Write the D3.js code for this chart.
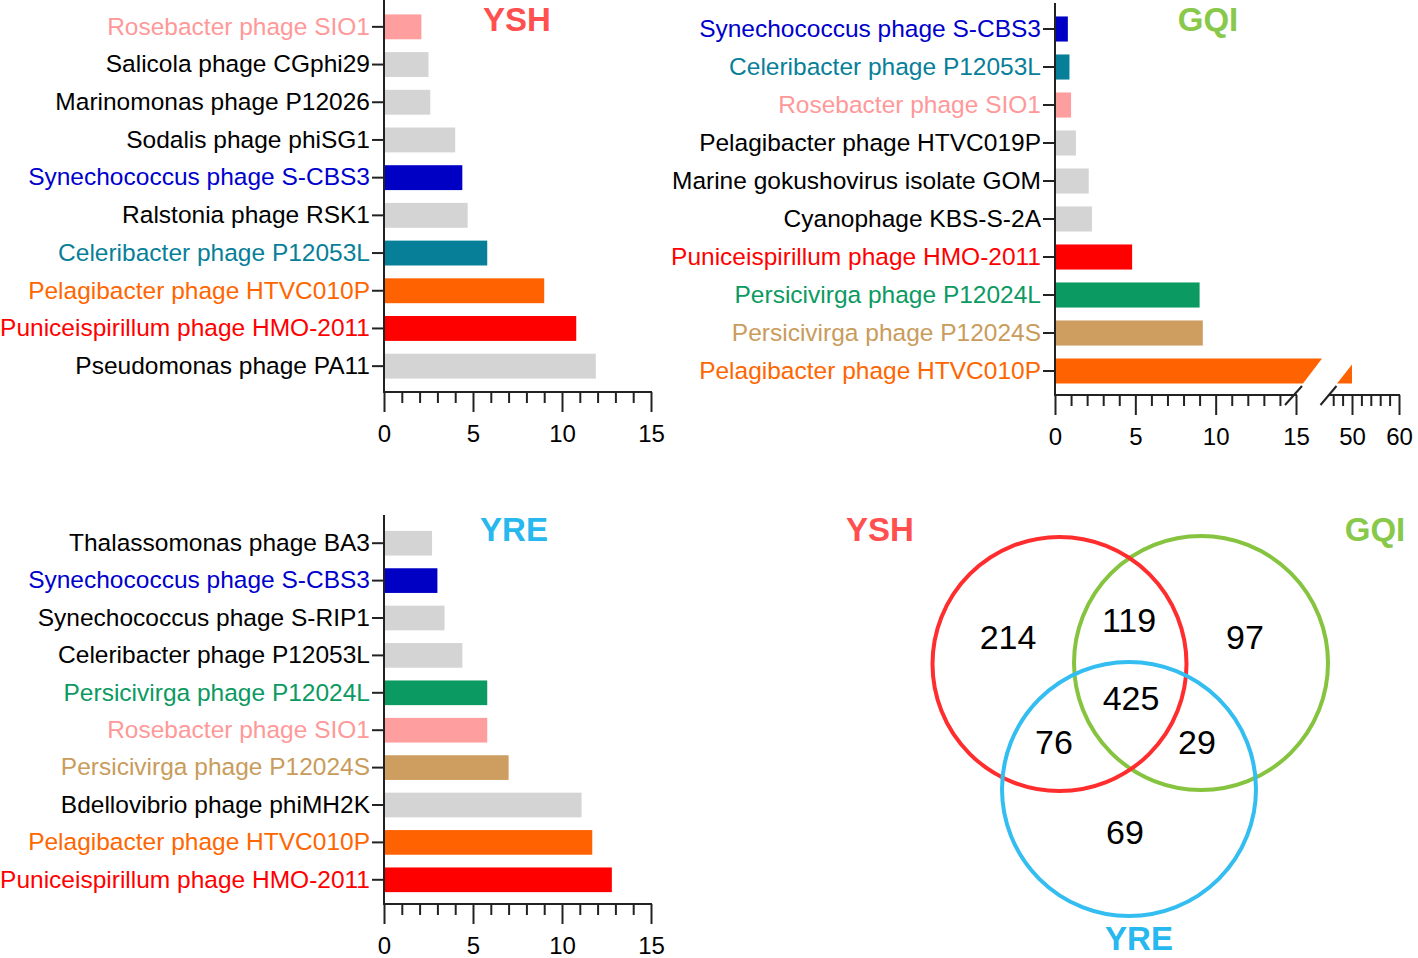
<!DOCTYPE html>
<html><head><meta charset="utf-8">
<script src="https://cdn.jsdelivr.net/npm/d3@7"></script>
<style>body{margin:0;background:#fff} text{font-family:"Liberation Sans",Arial,sans-serif}</style>
</head><body><svg id="c" width="1418" height="958"></svg>
<script>
// ---------- data ----------
const yshCategories = ["Rosebacter phage SIO1","Salicola phage CGphi29","Marinomonas phage P12026","Sodalis phage phiSG1","Synechococcus phage S-CBS3","Ralstonia phage RSK1","Celeribacter phage P12053L","Pelagibacter phage HTVC010P","Puniceispirillum phage HMO-2011","Pseudomonas phage PA11"];
const yshValues = [2.1,2.5,2.6,4.0,4.4,4.7,5.8,9.0,10.8,11.9];
const yshGroups = ["rose","other","other","other","syn","other","cel","pel","pun","other"];

const gqiCategories = ["Synechococcus phage S-CBS3","Celeribacter phage P12053L","Rosebacter phage SIO1","Pelagibacter phage HTVC019P","Marine gokushovirus isolate GOM","Cyanophage KBS-S-2A","Puniceispirillum phage HMO-2011","Persicivirga phage P12024L","Persicivirga phage P12024S","Pelagibacter phage HTVC010P"];
const gqiValues = [0.8,0.9,1.0,1.3,2.1,2.3,4.8,9.0,9.2,50];
const gqiGroups = ["syn","cel","rose","other","other","other","pun","perL","perS","pel"];

const yreCategories = ["Thalassomonas phage BA3","Synechococcus phage S-CBS3","Synechococcus phage S-RIP1","Celeribacter phage P12053L","Persicivirga phage P12024L","Rosebacter phage SIO1","Persicivirga phage P12024S","Bdellovibrio phage phiMH2K","Pelagibacter phage HTVC010P","Puniceispirillum phage HMO-2011"];
const yreValues = [2.7,3.0,3.4,4.4,5.8,5.8,7.0,11.1,11.7,12.8];
const yreGroups = ["other","syn","other","other","perL","rose","perS","other","pel","pun"];

const xMajorTicks = [0,5,10,15];
const xMinorTicks = d3.range(0,16,1);
const breakMajorTicks = [50,60];
const breakMinorTicks = [46,48,52,54,56,58];

const vennSets = ["YSH","GQI","YRE"];
const vennRegions = ["YSH only","YSH&GQI","GQI only","YSH&GQI&YRE","YSH&YRE","GQI&YRE","YRE only"];
const vennCounts = [214,119,97,425,76,29,69];

// ---------- styles ----------
const barColor = {rose:"#ff9e9e", syn:"#0000c4", cel:"#077f98", pel:"#ff6200", pun:"#ff0000", perL:"#0b9a62", perS:"#cd9e5f", other:"#d4d4d4"};
const labelColor = {rose:"#ff9999", syn:"#0000cc", cel:"#087f99", pel:"#ff6600", pun:"#ff0000", perL:"#0b9a62", perS:"#c99c5c", other:"#000"};
const titleColor = {YSH:"#ff4f4f", GQI:"#88c84a", YRE:"#26b8ee"};
const circleColor = {YSH:"#ff2d2d", GQI:"#86c440", YRE:"#33bdf0"};
const LABEL_FS = 24.5;
const TITLE_FS = 33;

const svg = d3.select("#c");
const AX = "#222";

function drawXAxis(g, x, axisY, major, minor){
  g.append("g").attr("transform",`translate(0,${axisY})`)
    .call(d3.axisBottom(x).tickValues(minor.filter(v=>!major.includes(v))).tickSize(11).tickFormat("").tickSizeOuter(0))
    .call(s=>{s.select(".domain").remove(); s.selectAll("line").attr("stroke",AX).attr("stroke-width",2);});
  g.append("g").attr("transform",`translate(0,${axisY})`)
    .call(d3.axisBottom(x).tickValues(major).tickSize(20).tickPadding(13).tickSizeOuter(0))
    .call(s=>{s.select(".domain").remove(); s.selectAll("line").attr("stroke",AX).attr("stroke-width",2);
      s.selectAll("text").attr("font-size",24).attr("fill","#000").attr("font-family","Liberation Sans, Arial, sans-serif");});
}

function panel(o){
  const g = svg.append("g");
  const y = d3.scaleBand().domain(o.cats).range(o.bandRange).paddingInner(0.34).paddingOuter(0.17);
  const x = o.x;
  const bh = y.bandwidth();
  o.cats.forEach((c,i)=>{
    const v = o.vals[i], col = barColor[o.groups[i]];
    const top = y(c), bot = y(c)+bh;
    if (o.x2 && v > x.domain()[1]) {
      const xe = x(x.domain()[1]);
      g.append("path").attr("fill",col)
        .attr("d",`M${x(0)},${top}L${xe+26},${top}L${xe+7},${bot}L${x(0)},${bot}Z`);
      const xv = o.x2(v);
      g.append("path").attr("fill",col)
        .attr("d",`M${xv},${bot}L${xv-15},${bot}L${xv},${bot-19}Z`);
    } else {
      g.append("rect").attr("x",x(0)).attr("y",top).attr("width",x(v)-x(0)).attr("height",bh).attr("fill",col);
    }
  });
  const ya = g.append("g").attr("transform",`translate(${x(0)},0)`)
    .call(d3.axisLeft(y).tickSize(12).tickPadding(2).tickSizeOuter(0));
  ya.select(".domain").remove();
  ya.selectAll("line").attr("stroke",AX).attr("stroke-width",2);
  ya.selectAll("text").attr("font-size",LABEL_FS).attr("font-family","Liberation Sans, Arial, sans-serif")
    .attr("fill",(d,i)=>labelColor[o.groups[i]]);
  g.append("line").attr("x1",x(0)).attr("x2",x(0)).attr("y1",o.yTop).attr("y2",o.axisY+1).attr("stroke",AX).attr("stroke-width",2);
  const xEnd = x(x.domain()[1])+1;
  g.append("line").attr("x1",x(0)-1).attr("x2",xEnd).attr("y1",o.axisY).attr("y2",o.axisY).attr("stroke",AX).attr("stroke-width",2);
  drawXAxis(g, x, o.axisY, xMajorTicks, xMinorTicks);
  if (o.x2){
    const s = o.x2.domain()[0], e = o.x2.domain()[1];
    g.append("line").attr("x1",o.x2(s)).attr("x2",o.x2(e)+1).attr("y1",o.axisY).attr("y2",o.axisY).attr("stroke",AX).attr("stroke-width",2);
    drawXAxis(g, o.x2, o.axisY, breakMajorTicks, breakMinorTicks);
    const xe = x(x.domain()[1]);
    g.append("line").attr("x1",xe-11).attr("y1",o.axisY+10).attr("x2",xe+6).attr("y2",o.axisY-9).attr("stroke",AX).attr("stroke-width",2);
    const xs = o.x2(s);
    g.append("line").attr("x1",xs-8).attr("y1",o.axisY+10).attr("x2",xs+8).attr("y2",o.axisY-9).attr("stroke",AX).attr("stroke-width",2);
  }
  g.append("text").attr("x",o.titleX).attr("y",o.titleY).attr("text-anchor","middle")
    .attr("font-size",TITLE_FS).attr("font-weight","bold").attr("fill",titleColor[o.title]).text(o.title);
}

panel({cats:yshCategories, vals:yshValues, groups:yshGroups,
  x:d3.scaleLinear().domain([0,15]).range([384,651]),
  bandRange:[8,385], yTop:0, axisY:392, title:"YSH", titleX:517, titleY:31});

panel({cats:gqiCategories, vals:gqiValues, groups:gqiGroups,
  x:d3.scaleLinear().domain([0,15]).range([1055,1296]),
  x2:d3.scaleLinear().domain([45,60]).range([1328.5,1399]),
  bandRange:[10,390], yTop:3, axisY:395, title:"GQI", titleX:1208, titleY:31});

panel({cats:yreCategories, vals:yreValues, groups:yreGroups,
  x:d3.scaleLinear().domain([0,15]).range([384,651]),
  bandRange:[524.5,898.5], yTop:515, axisY:904, title:"YRE", titleX:514, titleY:541});

// ---------- Venn ----------
const vennLayout = {YSH:{cx:1059.5,cy:664}, GQI:{cx:1201,cy:663}, YRE:{cx:1129,cy:789}};
const vennR = 127;
const vennTitlePos = {YSH:[880,541], GQI:[1375,541], YRE:[1139,950]};
const regionPos = {"YSH only":[1008,637],"YSH&GQI":[1129,620],"GQI only":[1245,637],"YSH&GQI&YRE":[1131,698],"YSH&YRE":[1054,742],"GQI&YRE":[1197,742],"YRE only":[1125,832]};
const vg = svg.append("g");
vg.selectAll("circle").data(["GQI","YSH","YRE"]).join("circle")
  .attr("cx",d=>vennLayout[d].cx).attr("cy",d=>vennLayout[d].cy).attr("r",vennR)
  .attr("fill","none").attr("stroke",d=>circleColor[d]).attr("stroke-width",4);
vg.selectAll("text.set").data(vennSets).join("text").attr("class","set")
  .attr("x",d=>vennTitlePos[d][0]).attr("y",d=>vennTitlePos[d][1]).attr("text-anchor","middle")
  .attr("font-size",TITLE_FS).attr("font-weight","bold").attr("fill",d=>titleColor[d]).text(d=>d);
vg.selectAll("text.cnt").data(vennRegions).join("text").attr("class","cnt")
  .attr("x",d=>regionPos[d][0]).attr("y",d=>regionPos[d][1]).attr("dy","0.36em").attr("text-anchor","middle")
  .attr("font-size",34).attr("fill","#000").text((d,i)=>vennCounts[i]);
</script></body></html>
